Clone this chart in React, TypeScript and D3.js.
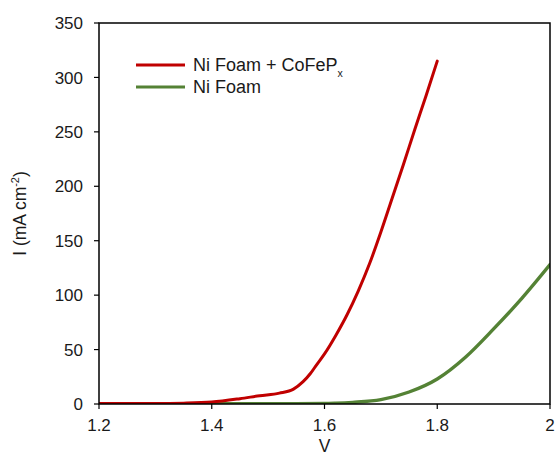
import React from "react";
import * as d3 from "d3";

// Polarisation curves: current density vs. applied potential
const voltage = [1.2, 1.3, 1.35, 1.4, 1.45, 1.485, 1.52, 1.545, 1.562, 1.575, 1.586, 1.6, 1.62, 1.64, 1.66, 1.68, 1.7, 1.72, 1.74, 1.76, 1.78, 1.8];
const currentCoFeP = [0.5, 0.5, 0.8, 1.8, 4.9, 7.6, 10, 13.7, 20.5, 28, 36, 46, 63, 82, 104, 129, 158, 189, 220, 252, 283, 315];

const voltageFoam = [1.2, 1.3, 1.4, 1.5, 1.55, 1.6, 1.62, 1.65, 1.7, 1.75, 1.8, 1.85, 1.9, 1.95, 2.0];
const currentFoam = [0.3, 0.2, 0.2, 0.2, 0.3, 0.4, 0.7, 1.5, 4, 11, 23, 43, 69, 97, 128];

const xTicks = [1.2, 1.4, 1.6, 1.8, 2.0];
const yTicks = [0, 50, 100, 150, 200, 250, 300, 350];

const seriesNames = ["Ni Foam + CoFeP", "Ni Foam"];
const seriesColors = ["#C00000", "#548235"];

const W = 558;
const H = 460;
const margin = { left: 99, right: 8, top: 23, bottom: 56 };

export default function App() {
  const x = d3.scaleLinear().domain([1.2, 2.0]).range([margin.left, W - margin.right]);
  const y = d3.scaleLinear().domain([0, 350]).range([H - margin.bottom, margin.top]);

  const line = d3
    .line<[number, number]>()
    .x((d) => x(d[0]))
    .y((d) => y(d[1]))
    .curve(d3.curveMonotoneX);

  const redPts = voltage.map((v, i) => [v, currentCoFeP[i]] as [number, number]);
  const greenPts = voltageFoam.map((v, i) => [v, currentFoam[i]] as [number, number]);

  const font = "'Liberation Sans', Arial, sans-serif";
  const textColor = "#1a1a1a";
  const x0 = x(1.2);
  const x1 = x(2.0);
  const y0 = y(0);
  const y1 = y(350);

  return (
    <svg width={W} height={H} style={{ position: "absolute", left: 0, top: 0 }} fontFamily={font}>
      <rect x={0} y={0} width={W} height={H} fill="#fff" />
      <defs>
        <clipPath id="plot">
          <rect x={x0} y={y1} width={x1 - x0} height={y0 - y1} />
        </clipPath>
      </defs>

      <g clipPath="url(#plot)" fill="none" strokeLinecap="round" strokeLinejoin="round">
        <path d={line(greenPts) ?? ""} stroke={seriesColors[1]} strokeWidth={3.4} />
        <path d={line(redPts) ?? ""} stroke={seriesColors[0]} strokeWidth={3} />
      </g>

      {/* frame */}
      <rect x={x0} y={y1} width={x1 - x0} height={y0 - y1} fill="none" stroke="#000" strokeWidth={1.5} />

      {/* y axis ticks */}
      {yTicks.map((t) => (
        <g key={`y${t}`}>
          <line x1={x0 - 5} x2={x0} y1={y(t)} y2={y(t)} stroke="#000" strokeWidth={1.2} />
          <text x={x0 - 16} y={y(t)} dy="0.36em" textAnchor="end" fontSize={17} fill={textColor}>
            {t}
          </text>
        </g>
      ))}

      {/* x axis ticks */}
      {xTicks.map((t) => (
        <g key={`x${t}`}>
          <line x1={x(t)} x2={x(t)} y1={y0} y2={y0 + 5} stroke="#000" strokeWidth={1.2} />
          <text x={x(t)} y={y0 + 27} textAnchor="middle" fontSize={17} fill={textColor}>
            {d3.format("~g")(t)}
          </text>
        </g>
      ))}

      {/* axis titles */}
      <text x={x(1.6)} y={H - 8} textAnchor="middle" fontSize={17.5} fill={textColor}>
        V
      </text>
      <text
        transform={`translate(26, ${(y0 + y1) / 2}) rotate(-90)`}
        textAnchor="middle"
        fontSize={17.5}
        fill={textColor}
      >
        I (mA cm
        <tspan fontSize={11} dy={-7}>-2</tspan>
        <tspan dy={7}>)</tspan>
      </text>

      {/* legend */}
      <g>
        <line x1={136} x2={185} y1={65} y2={65} stroke={seriesColors[0]} strokeWidth={3} />
        <text x={193} y={65} dy="0.36em" fontSize={18} fill={textColor}>
          {seriesNames[0]}
          <tspan fontSize={10.5} dy={6}>x</tspan>
        </text>
        <line x1={136} x2={185} y1={87} y2={87} stroke={seriesColors[1]} strokeWidth={3} />
        <text x={193} y={87} dy="0.36em" fontSize={18} fill={textColor}>
          {seriesNames[1]}
        </text>
      </g>
    </svg>
  );
}
